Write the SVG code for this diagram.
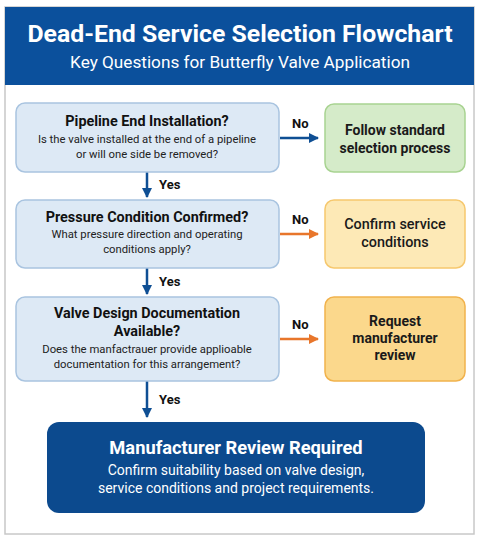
<svg xmlns="http://www.w3.org/2000/svg" width="483" height="543" viewBox="0 0 483 543">
<defs>
<style>
text{font-family:Roboto,"Liberation Sans",Arial,sans-serif;text-anchor:middle}
.q{fill:#dde9f5;stroke:#a9c4e0;stroke-width:1.5}
.qt{font-size:14.4px;font-weight:bold;fill:#111}
.qs{font-size:11.3px;fill:#222}
.rt{font-size:14px;font-weight:bold;fill:#1a1a1a}
.lbl{font-size:13px;font-weight:bold;fill:#111;text-anchor:start}
.blue{stroke:#0f4f94;stroke-width:2.5;fill:none}
.orange{stroke:#e8762b;stroke-width:2.5;fill:none}
</style>
<marker id="ab" viewBox="0 0 10 10" refX="9" refY="5" markerWidth="4" markerHeight="4" orient="auto" markerUnits="strokeWidth"><path d="M0,0L10,5L0,10z" fill="#0f4f94"/></marker>
<marker id="ao" viewBox="0 0 10 10" refX="9" refY="5" markerWidth="4" markerHeight="4" orient="auto" markerUnits="strokeWidth"><path d="M0,0L10,5L0,10z" fill="#e8762b"/></marker>
</defs>
<rect width="483" height="543" fill="#ffffff"/>
<g id="frame">
<rect x="5" y="7" width="469" height="527" fill="#ffffff" stroke="#c8c8c8" stroke-width="1.5"/>
<rect x="5" y="7" width="469" height="78" fill="#0b509c"/>
<text x="240" y="42" style="font-size:24.8px;font-weight:bold;fill:#fff">Dead-End Service Selection Flowchart</text>
<text x="240" y="68" style="font-size:17.2px;fill:#fff">Key Questions for Butterfly Valve Application</text>
</g>
<g id="connectors">
<line x1="280" y1="138" x2="318" y2="138" class="blue" marker-end="url(#ab)"/>
<text x="292" y="128" class="lbl">No</text>
<line x1="147" y1="172" x2="147" y2="197" class="blue" marker-end="url(#ab)"/>
<text x="159" y="189" class="lbl">Yes</text>
<line x1="280" y1="234" x2="318" y2="234" class="orange" marker-end="url(#ao)"/>
<text x="292" y="224" class="lbl">No</text>
<line x1="147" y1="268" x2="147" y2="294" class="blue" marker-end="url(#ab)"/>
<text x="159" y="286" class="lbl">Yes</text>
<line x1="280" y1="339" x2="318" y2="339" class="orange" marker-end="url(#ao)"/>
<text x="292" y="329" class="lbl">No</text>
<line x1="147" y1="381" x2="147" y2="417" class="blue" marker-end="url(#ab)"/>
<text x="159" y="404" class="lbl">Yes</text>
</g>
<g id="q1">
<rect x="16" y="103" width="263" height="69" rx="9" class="q"/>
<text x="147" y="126" class="qt">Pipeline End Installation?</text>
<text x="147" y="143" class="qs">Is the valve installed at the end of a pipeline</text>
<text x="147" y="158" class="qs">or will one side be removed?</text>
</g>
<g id="r1">
<rect x="325" y="104" width="140" height="68" rx="9" fill="#d5ebc9" stroke="#a8d391" stroke-width="1.5"/>
<text x="395" y="135" class="rt">Follow standard</text>
<text x="395" y="153" class="rt">selection process</text>
</g>
<g id="q2">
<rect x="16" y="200" width="263" height="68" rx="9" class="q"/>
<text x="147" y="222" class="qt">Pressure Condition Confirmed?</text>
<text x="147" y="238" class="qs">What pressure direction and operating</text>
<text x="147" y="253" class="qs">conditions apply?</text>
</g>
<g id="r2">
<rect x="325" y="200" width="140" height="68" rx="9" fill="#fde9b6" stroke="#f6c86e" stroke-width="1.5"/>
<text x="395" y="229" style="font-size:14.4px;font-weight:500;fill:#1a1a1a">Confirm service</text>
<text x="395" y="247" style="font-size:14.4px;font-weight:500;fill:#1a1a1a">conditions</text>
</g>
<g id="q3">
<rect x="16" y="297" width="263" height="84" rx="9" class="q"/>
<text x="147" y="318" class="qt">Valve Design Documentation</text>
<text x="147" y="336" class="qt">Available?</text>
<text x="147" y="353" class="qs">Does the manfactrauer provide applioable</text>
<text x="147" y="368" class="qs">documentation for this arrangement?</text>
</g>
<g id="r3">
<rect x="325" y="297" width="140" height="84" rx="9" fill="#fbd88c" stroke="#f1b24c" stroke-width="1.5"/>
<text x="395" y="326" class="rt">Request</text>
<text x="395" y="343" class="rt">manufacturer</text>
<text x="395" y="360" class="rt">review</text>
</g>
<g id="final">
<rect x="47" y="422" width="378" height="91" rx="12" fill="#0c4a8e"/>
<text x="236" y="454" style="font-size:18.3px;font-weight:bold;fill:#fff">Manufacturer Review Required</text>
<text x="236" y="475" style="font-size:14px;fill:#fff">Confirm suitability based on valve design,</text>
<text x="236" y="493" style="font-size:14px;fill:#fff">service conditions and project requirements.</text>
</g>
</svg>
